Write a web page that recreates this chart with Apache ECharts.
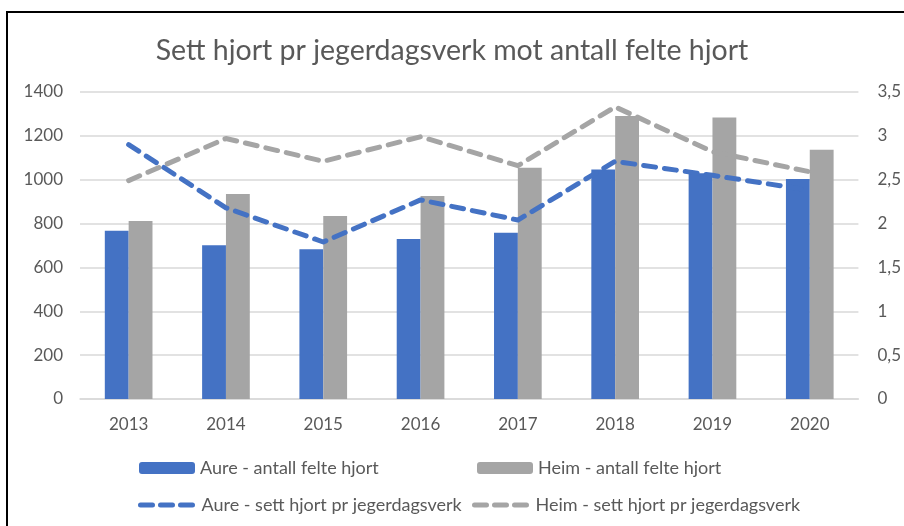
<!DOCTYPE html>
<html>
<head>
<meta charset="utf-8">
<script src="https://cdn.jsdelivr.net/npm/echarts@6/dist/echarts.min.js"></script>
<style>
  html, body { margin: 0; padding: 0; background: #fff; }
  #wrap { position: relative; width: 904px; height: 526px; overflow: hidden; }
  #frame { position: absolute; left: 6px; top: 11px; right: -10px; bottom: -10px;
           border-left: 2px solid #000; border-top: 2px solid #000; pointer-events: none; }
  #chart { position: absolute; left: 0; top: 0; width: 904px; height: 526px; }
</style>
</head>
<body>
<div id="wrap">
  <div id="chart"></div>
  <div id="frame"></div>
</div>
<script>
const years = ['2013', '2014', '2015', '2016', '2017', '2018', '2019', '2020'];
const aureFelt = [767, 701, 683, 730, 758, 1047, 1029, 1003];
const heimFelt = [812, 935, 834, 926, 1055, 1290, 1284, 1137];
const aureSett = [2.90, 2.18, 1.79, 2.27, 2.04, 2.71, 2.55, 2.38];
const heimSett = [2.49, 2.97, 2.71, 2.99, 2.66, 3.33, 2.82, 2.59];

const BLUE = '#4472C4';
const GREY = '#A5A5A5';
const TEXT = '#595959';
const FONT = 'Lato, "Open Sans", sans-serif';

const chart = echarts.init(document.getElementById('chart'));

const legendBase = {
  orient: 'horizontal',
  itemWidth: 56,
  itemHeight: 12,
  textStyle: { color: TEXT, fontSize: 18, fontFamily: FONT },
  selectedMode: false
};
const lineLegend = {
  itemHeight: 10,
  itemStyle: { opacity: 0 },
  lineStyle: { width: 5, type: [12, 8], cap: 'round' }
};

const option = {
  backgroundColor: '#fff',
  animation: false,
  title: {
    text: 'Sett hjort pr jegerdagsverk mot antall felte hjort',
    left: 'center',
    top: 31,
    textStyle: { color: TEXT, fontSize: 28.5, fontWeight: 'normal', fontFamily: FONT }
  },
  grid: { left: 80, right: 41, top: 92, bottom: 127, containLabel: false },
  legend: [
    Object.assign({}, legendBase, { left: 134, top: 454, data: ['Aure - antall felte hjort'] }),
    Object.assign({}, legendBase, { left: 472, top: 454, data: ['Heim - antall felte hjort'] }),
    Object.assign({}, legendBase, lineLegend, { left: 133, top: 491, data: ['Aure - sett hjort pr jegerdagsverk'] }),
    Object.assign({}, legendBase, lineLegend, { left: 467, top: 491, data: ['Heim - sett hjort pr jegerdagsverk'] })
  ],
  xAxis: {
    type: 'category',
    data: years,
    axisLine: { lineStyle: { color: '#D9D9D9', width: 1.5 } },
    axisTick: { show: false },
    axisLabel: { color: TEXT, fontSize: 17, fontFamily: FONT, margin: 17 }
  },
  yAxis: [
    {
      type: 'value',
      min: 0, max: 1400, interval: 200,
      axisLine: { show: false },
      axisTick: { show: false },
      axisLabel: { color: TEXT, fontSize: 17, fontFamily: FONT, margin: 17, formatter: v => String(v) },
      splitLine: { lineStyle: { color: '#D9D9D9', width: 1.5 } }
    },
    {
      type: 'value',
      min: 0, max: 3.5, interval: 0.5,
      axisLine: { show: false },
      axisTick: { show: false },
      splitLine: { show: false },
      axisLabel: {
        color: TEXT, fontSize: 17, fontFamily: FONT, margin: 19,
        formatter: v => String(v).replace('.', ',')
      }
    }
  ],
  series: [
    {
      name: 'Aure - antall felte hjort',
      type: 'bar',
      data: aureFelt,
      itemStyle: { color: BLUE },
      barGap: '0%',
      barCategoryGap: '51%'
    },
    {
      name: 'Heim - antall felte hjort',
      type: 'bar',
      data: heimFelt,
      itemStyle: { color: GREY }
    },
    {
      name: 'Heim - sett hjort pr jegerdagsverk',
      type: 'line',
      yAxisIndex: 1,
      data: heimSett,
      symbol: 'none',
      itemStyle: { color: GREY },
      lineStyle: { color: GREY, width: 5, type: [12, 9], cap: 'round', join: 'round' },
      z: 3
    },
    {
      name: 'Aure - sett hjort pr jegerdagsverk',
      type: 'line',
      yAxisIndex: 1,
      data: aureSett,
      symbol: 'none',
      itemStyle: { color: BLUE },
      lineStyle: { color: BLUE, width: 5, type: [12, 9], cap: 'round', join: 'round' },
      z: 4
    }
  ]
};

chart.setOption(option);
</script>
</body>
</html>
